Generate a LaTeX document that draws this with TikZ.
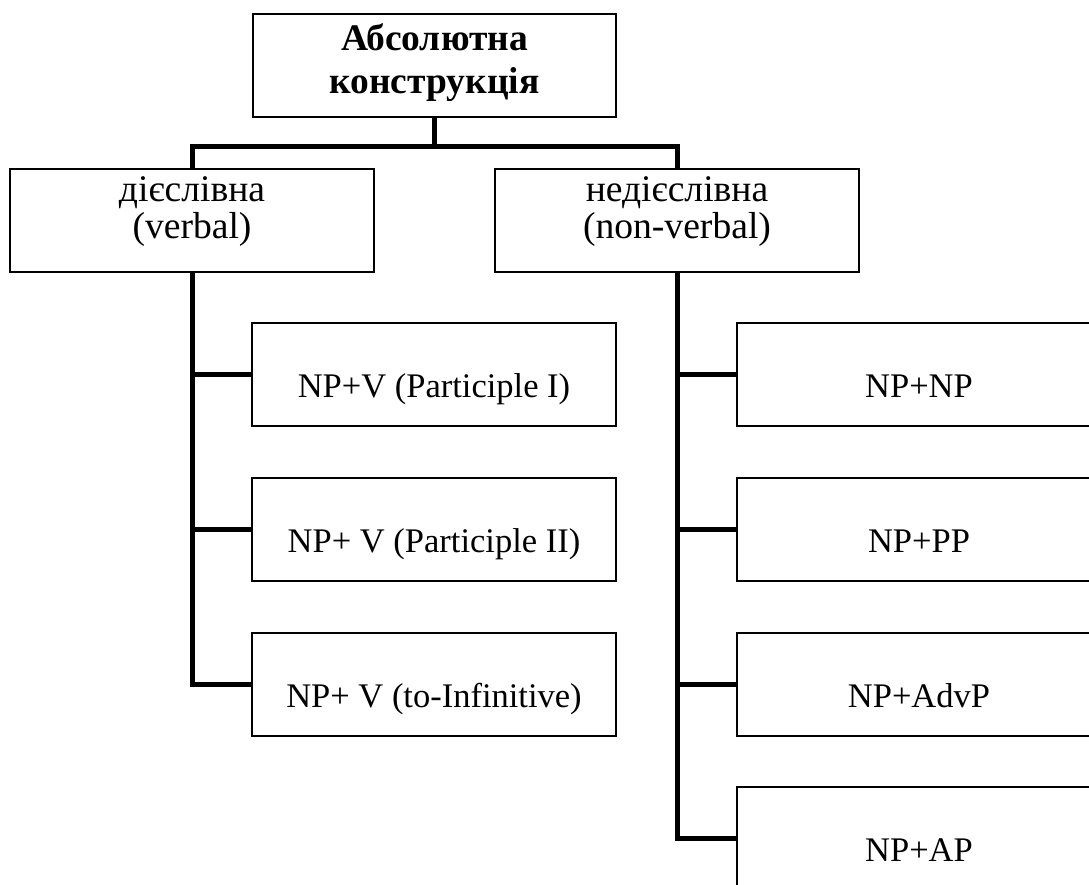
\documentclass[tikz,border=0pt]{standalone}
\usepackage{fontspec}
\setmainfont{Liberation Serif}
\newcommand{\onel}[1]{\raisebox{-23pt}[0pt][0pt]{#1}}
\newcommand{\twol}[3]{\raisebox{#1}[0pt][0pt]{\begin{tabular}[t]{@{}c@{}}#2\\#3\end{tabular}}}
\begin{document}
\begin{tikzpicture}[x=1pt,y=-1pt,
  box/.style={draw=black,line width=2pt,rectangle,inner sep=0pt,minimum width=364pt,minimum height=103pt},
  subtext/.style={font=\fontsize{34.5}{36}\selectfont},
  midtext/.style={font=\fontsize{37.6}{37}\selectfont},
  toptext/.style={font=\fontsize{37.5}{42.6}\selectfont\bfseries},
  conn/.style={line width=5pt,line join=miter}]
\useasboundingbox (0,0) rectangle (1089,884);
\clip (0,0) rectangle (1089,884);
% title
\node[box,toptext,minimum width=363pt] (T) at (434.5,65.5) {\twol{15pt}{Абсолютна}{конструкція}};
% level 1
\node[box,midtext] (L) at (192,220.5) {\twol{19pt}{дієслівна}{(verbal)}};
\node[box,midtext] (R) at (677,220.5) {\twol{19pt}{недієслівна}{(non-verbal)}};
% left children
\node[box,subtext] (a1) at (434,374.5) {\onel{NP+V (Participle I)}};
\node[box,subtext] (a2) at (434,529.5) {\onel{NP+ V (Participle II)}};
\node[box,subtext] (a3) at (434,684) {\onel{NP+ V (to-Infinitive)}};
% right children
\node[box,subtext] (b1) at (919,374.5) {\onel{NP+NP}};
\node[box,subtext] (b2) at (919,529.5) {\onel{NP+PP}};
\node[box,subtext] (b3) at (919,684) {\onel{NP+AdvP}};
\node[box,subtext] (b4) at (919,838.5) {\onel{NP+AP}};
% connectors
\coordinate (J) at (434.5,146);
\draw[conn] (T.south) -- (J);
\draw[conn] (L.north) |- (J) -| (R.north);
\draw[conn] (L.south) |- (a3.west);
\draw[conn] (L.south |- a1.west) -- (a1.west);
\draw[conn] (L.south |- a2.west) -- (a2.west);
\draw[conn] (R.south) |- (b4.west);
\draw[conn] (R.south |- b1.west) -- (b1.west);
\draw[conn] (R.south |- b2.west) -- (b2.west);
\draw[conn] (R.south |- b3.west) -- (b3.west);
\end{tikzpicture}
\end{document}
